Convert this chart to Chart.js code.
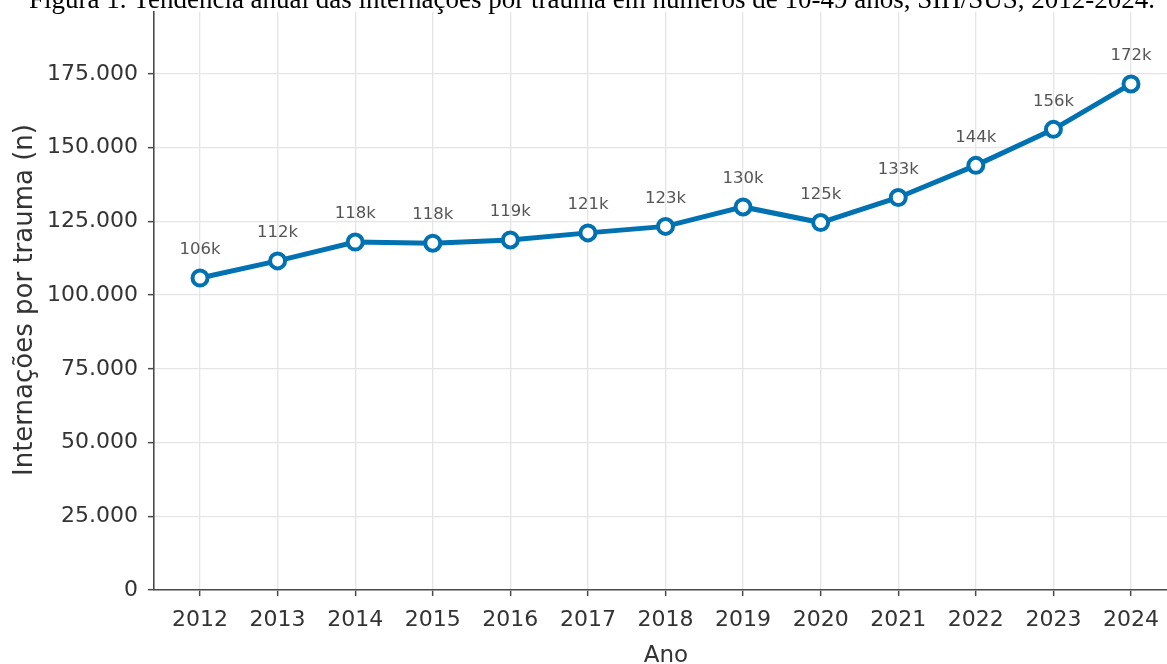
<!DOCTYPE html>
<html>
<head>
<meta charset="utf-8">
<script src="https://cdn.jsdelivr.net/npm/chart.js@4.4.0/dist/chart.umd.min.js"></script>
<style>
  html, body { margin: 0; padding: 0; background: #fff; }
  #wrap { width: 1167px; height: 664px; position: relative; }
</style>
</head>
<body>
<div id="wrap"><canvas id="chart" width="1167" height="664"></canvas></div>
<script>
// Data
const years = [2012, 2013, 2014, 2015, 2016, 2017, 2018, 2019, 2020, 2021, 2022, 2023, 2024];
const admissions = [105800, 111600, 118000, 117600, 118700, 121100, 123300, 129900, 124600, 133100, 144000, 156200, 171600];
const pointLabels = ['106k', '112k', '118k', '118k', '119k', '121k', '123k', '130k', '125k', '133k', '144k', '156k', '172k'];
const yTicks = [0, 25000, 50000, 75000, 100000, 125000, 150000, 175000];

const titleText = 'Figura 1. Tendência anual das internações por trauma em números de 10-49 anos, SIH/SUS, 2012-2024.';
const xTitle = 'Ano';
const yTitle = 'Internações por trauma (n)';
const lineBlue = '#0072b2';
const spineColor = '#4a4a4a';
const gridColor = '#e5e5e5';
const textColor = '#333333';

function formatThousands(v) {
    return String(v).replace(/\B(?=(\d{3})+(?!\d))/g, '.');
}

// value labels above each point
const valueLabels = {
    id: 'valueLabels',
    afterDatasetsDraw(chart) {
        const ctx = chart.ctx;
        const meta = chart.getDatasetMeta(0);
        ctx.save();
        ctx.font = '16.5px "DejaVu Sans"';
        ctx.fillStyle = '#555555';
        ctx.textAlign = 'center';
        ctx.textBaseline = 'middle';
        meta.data.forEach((pt, i) => {
            ctx.fillText(pointLabels[i], pt.x, pt.y - 28);
        });
        ctx.restore();
    }
};

// caption (partly cut at the top edge) and axis titles
const texts = {
    id: 'texts',
    afterDraw(chart) {
        const ctx = chart.ctx;
        const area = chart.chartArea;
        ctx.save();
        ctx.font = '27px "Liberation Serif"';
        ctx.fillStyle = '#000';
        ctx.textAlign = 'center';
        ctx.textBaseline = 'alphabetic';
        ctx.fillText(titleText, 592, 7.5);

        ctx.fillStyle = textColor;
        ctx.font = '23px "DejaVu Sans"';
        ctx.fillText(xTitle, 666, 662);

        ctx.font = '26px "DejaVu Sans"';
        ctx.translate(32, 300);
        ctx.rotate(-Math.PI / 2);
        ctx.fillText(yTitle, 0, 0);
        ctx.restore();
    }
};

new Chart(document.getElementById('chart'), {
    type: 'line',
    data: {
        datasets: [{
            data: years.map((y, i) => ({ x: y, y: admissions[i] })),
            borderColor: lineBlue,
            borderWidth: 5,
            pointRadius: 7.5,
            pointBorderWidth: 4,
            pointBackgroundColor: '#ffffff',
            pointBorderColor: lineBlue,
            tension: 0,
            clip: false
        }]
    },
    options: {
        responsive: false,
        animation: false,
        layout: { autoPadding: false, padding: { top: 12, right: 0, left: 0, bottom: 0 } },
        plugins: {
            legend: { display: false },
            tooltip: { enabled: false }
        },
        scales: {
            x: {
                type: 'linear',
                min: 2011.407,
                max: 2024.464,
                afterBuildTicks: scale => { scale.ticks = years.map(v => ({ value: v })); },
                afterFit: scale => {
                    scale.height = 74;
                    scale.paddingLeft = 0;
                    scale.paddingRight = 0;
                },
                ticks: {
                    callback: v => String(v),
                    color: textColor,
                    font: { family: 'DejaVu Sans', size: 22 },
                    padding: 11,
                    maxRotation: 0,
                    autoSkip: false
                },
                grid: { color: gridColor, lineWidth: 1.3, tickLength: 6, tickColor: spineColor, tickWidth: 1.5 },
                border: { color: spineColor, width: 1.6 }
            },
            y: {
                min: 0,
                max: 196000,
                afterBuildTicks: scale => { scale.ticks = yTicks.map(v => ({ value: v })); },
                afterFit: scale => {
                    scale.width = 154;
                    scale.paddingTop = 0;
                    scale.paddingBottom = 0;
                },
                ticks: {
                    callback: v => formatThousands(v),
                    color: textColor,
                    font: { family: 'DejaVu Sans', size: 22 },
                    padding: 10
                },
                grid: { color: gridColor, lineWidth: 1.3, tickLength: 6, tickColor: spineColor, tickWidth: 1.5 },
                border: { color: spineColor, width: 1.6 }
            }
        }
    },
    plugins: [valueLabels, texts]
});
</script>
</body>
</html>
